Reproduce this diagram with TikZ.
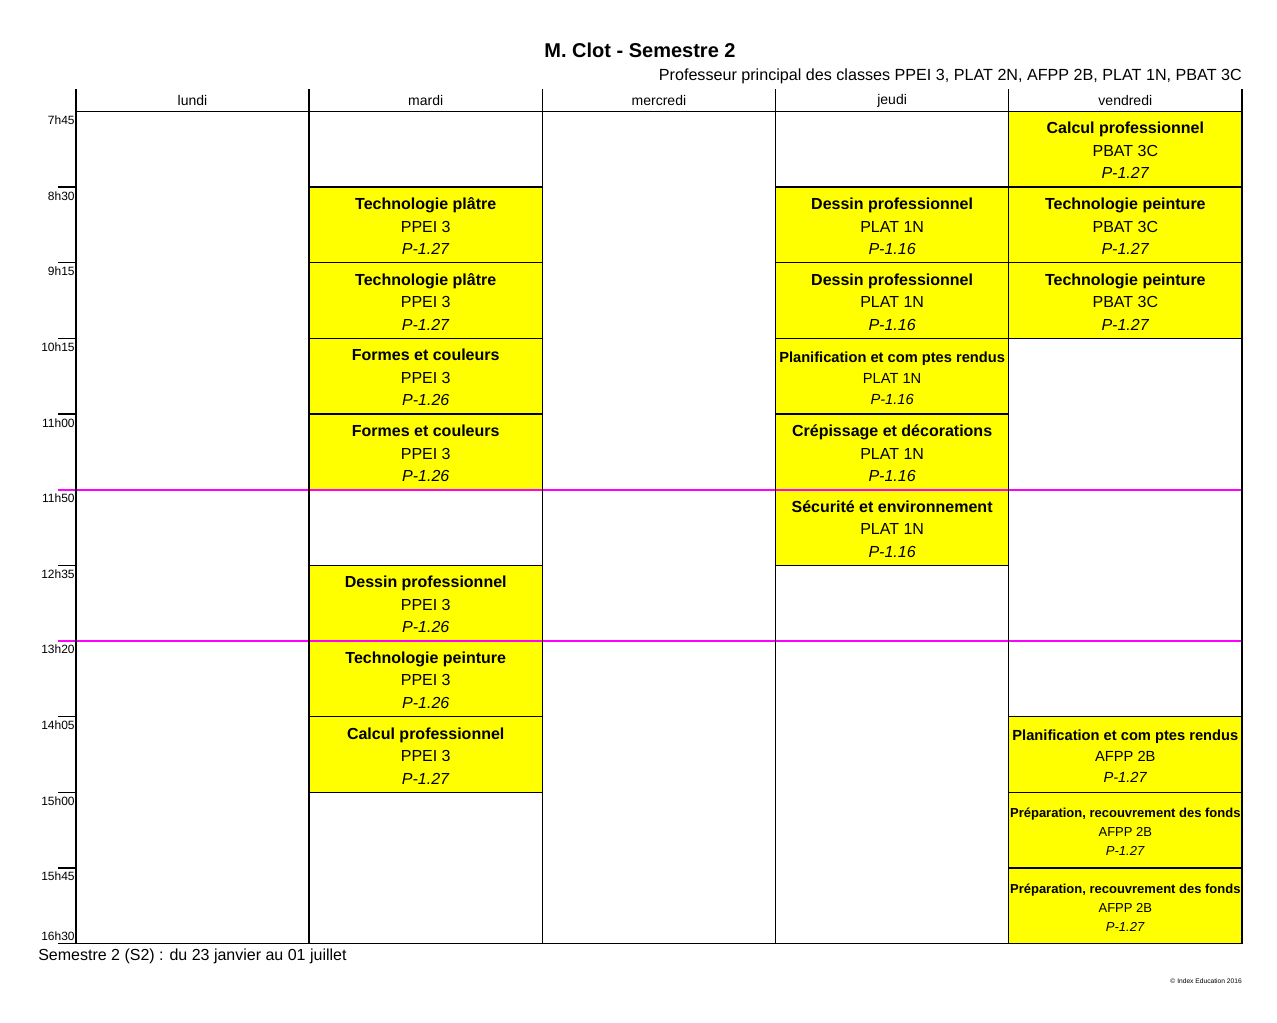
\documentclass[tikz,border=0pt]{standalone}
\usepackage{fontspec}
\setmainfont{Liberation Sans}
\usetikzlibrary{matrix, positioning}
\definecolor{jaune}{HTML}{FFFF00}
\definecolor{pause}{HTML}{FF00FF}
\newcommand{\seance}[3]{\raisebox{-2pt}[\height][\depth]{\begin{tabular}{@{}c@{}}\textbf{#1}\\#2\\\textit{#3}\end{tabular}}}
\tikzset{
edt/.style={
  matrix of nodes,
  row sep=-1pt,
  column sep=-1pt,
  inner sep=0pt,
  nodes={rectangle, draw, draw opacity=0, line width=1pt, minimum width=174.9pt, minimum height=56.73pt, inner sep=0pt, outer sep=0pt, anchor=center},
  nodes in empty cells
},
cours/.style={draw=black, draw opacity=1, fill=jaune, font=\fontsize{12}{16.9}\selectfont},
petit/.style={font=\fontsize{11}{15.75}\selectfont},
mini/.style={font=\fontsize{9.75}{14.25}\selectfont},
heure/.style={font=\fontsize{9}{10}\selectfont, inner sep=0pt, anchor=base east},
trait/.style={line width=1pt},
row 1/.style={nodes={minimum height=16.5pt, font=\fontsize{10.5}{12}\selectfont}},
}

\begin{document}
\begin{tikzpicture}[x=0.75pt, y=-0.75pt]
\useasboundingbox (0,0) rectangle (1277,1022);
\node[font=\fontsize{15}{18}\selectfont\bfseries] (titre) at (640,50) {M. Clot - Semestre 2};
\node[font=\fontsize{12.1}{14}\selectfont, anchor=east, inner sep=0pt] (classes) at (1242,76.5) {Professeur principal des classes PPEI 3, PLAT 2N, AFPP 2B, PLAT 1N, PBAT 3C};
\matrix (m) [edt, anchor=north west] at (75,88.5) {
  lundi & mardi & mercredi & jeudi & vendredi \\
  & & & & |[cours]| \seance{Calcul professionnel}{PBAT 3C}{P-1.27} \\
  & |[cours]| \seance{Technologie plâtre}{PPEI 3}{P-1.27} & & |[cours]| \seance{Dessin professionnel}{PLAT 1N}{P-1.16} & |[cours]| \seance{Technologie peinture}{PBAT 3C}{P-1.27} \\
  & |[cours]| \seance{Technologie plâtre}{PPEI 3}{P-1.27} & & |[cours]| \seance{Dessin professionnel}{PLAT 1N}{P-1.16} & |[cours]| \seance{Technologie peinture}{PBAT 3C}{P-1.27} \\
  & |[cours]| \seance{Formes et couleurs}{PPEI 3}{P-1.26} & & |[cours, petit]| \seance{Planification et com ptes rendus}{PLAT 1N}{P-1.16} & {} \\
  & |[cours]| \seance{Formes et couleurs}{PPEI 3}{P-1.26} & & |[cours]| \seance{Crépissage et décorations}{PLAT 1N}{P-1.16} & {} \\
  & & & |[cours]| \seance{Sécurité et environnement}{PLAT 1N}{P-1.16} & {} \\
  & |[cours]| \seance{Dessin professionnel}{PPEI 3}{P-1.26} & & & {} \\
  & |[cours]| \seance{Technologie peinture}{PPEI 3}{P-1.26} & & & {} \\
  & |[cours]| \seance{Calcul professionnel}{PPEI 3}{P-1.27} & & & |[cours, petit]| \seance{Planification et com ptes rendus}{AFPP 2B}{P-1.27} \\
  & & & & |[cours, mini]| \seance{Préparation, recouvrement des fonds}{AFPP 2B}{P-1.27} \\
  & & & & |[cours, mini]| \seance{Préparation, recouvrement des fonds}{AFPP 2B}{P-1.27} \\
};
% pauses
\foreach \r in {7,9}
  \draw[pause, line width=1.5pt] (m-\r-1.north west) ++(-18,0) -- (m-\r-5.north east);
% graduations
\foreach \r in {3,4,5,6,8,10,11,12}
  \draw[trait] (m-\r-1.north west) -- ++(-18,0);
% grille
\foreach \c in {1,...,5}
  \draw[trait] (m-1-\c.north west) -- (m-12-\c.south west);
\draw[trait] (m-1-5.north east) -- (m-12-5.south east);
\draw[trait] (m-2-1.north west) -- (m-2-5.north east);
\draw[trait] (m-12-1.south west) ++(-18,0) -- (m-12-5.south east);
% heures
\foreach \r/\h in {2/7h45, 3/8h30, 4/9h15, 5/10h15, 6/11h00, 7/11h50, 8/12h35, 9/13h20, 10/14h05, 11/15h00, 12/15h45}
  \node[heure] (h-\r) at ([shift={(-1,13)}]m-\r-1.north west) {\h};
\node[heure] (h-fin) at ([shift={(-1,-3)}]m-12-1.south west) {16h30};
\node[font=\fontsize{12}{14}\selectfont, anchor=west, inner sep=0pt] (periode) at (38,956) {Semestre 2 (S2) : du 23 janvier au 01 juillet};
\node[font=\fontsize{5}{6}\selectfont, anchor=east, inner sep=0pt] (copyright) at (1242,981) {© Index Education 2016};
\end{tikzpicture}
\end{document}
